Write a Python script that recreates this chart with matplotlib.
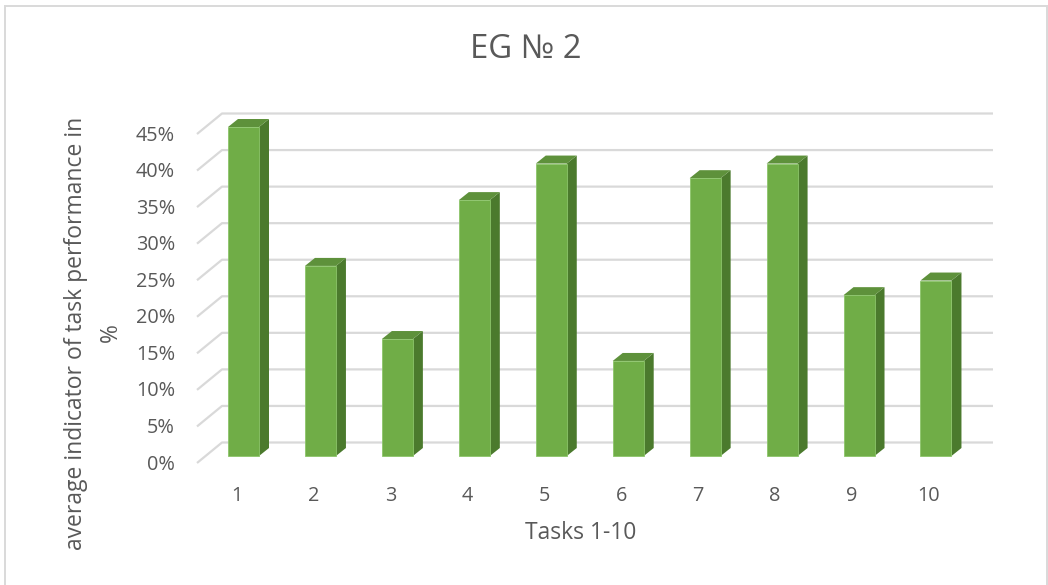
import matplotlib
matplotlib.use("Agg")
import matplotlib.pyplot as plt
from matplotlib.patches import Polygon, Rectangle

plt.rcParams['font.family'] = ['Open Sans', 'DejaVu Sans']

# ---- data ----
tasks = ["1", "2", "3", "4", "5", "6", "7", "8", "9", "10"]
performance = [45, 26, 16, 35, 40, 13, 38, 40, 22, 24]   # percent
y_ticks = [0, 5, 10, 15, 20, 25, 30, 35, 40, 45]

title = "EG № 2"
x_label = "Tasks 1-10"
y_label = "average indicator of task performance in\n%"

# ---- styling ----
FRONT = "#70AD47"
SIDE = "#4B7A2D"
TOP = "#5E913B"
GRID = "#D9D9D9"
TEXT = "#595959"
TICK_FS = 14.3
LABEL_FS = 16.5

W, H, DPI = 1048, 585, 100
fig = plt.figure(figsize=(W / DPI, H / DPI), dpi=DPI)

# axes box in pixels (from top-left)
L_PX, R_PX, T_PX, B_PX = 150, 1000, 90, 520
ax = fig.add_axes([L_PX / W, (H - B_PX) / H, (R_PX - L_PX) / W, (B_PX - T_PX) / H])

# pixel scale of the bar plane
X0_PX, XSTEP = 243.5, 76.94      # centre of first bar, spacing
Y0_PX, YSTEP = 456.0, 7.311      # baseline, pixels per percent

xlim = (1 + (L_PX - X0_PX) / XSTEP, 1 + (R_PX - X0_PX) / XSTEP)
ylim = ((Y0_PX - B_PX) / YSTEP, (Y0_PX - T_PX) / YSTEP)
ax.set_xlim(*xlim)
ax.set_ylim(*ylim)
ax.axis("off")


def px_x(px):
    return 1 + (px - X0_PX) / XSTEP


def dx(px):
    return px / XSTEP


def dy(px):
    # positive px = upwards on screen
    return px / YSTEP


# gridlines: short slanted floor edge on the left, then the back wall
for v in y_ticks:
    xs = [px_x(197), px_x(222), px_x(993)]
    ys = [v - dy(7), v + dy(13.5), v + dy(13.5)]
    ax.plot(xs, ys, color=GRID, lw=1.6, solid_capstyle="butt", zorder=1)
    ax.text(px_x(175), v - dy(8.5), f"{v}%", ha="right", va="center",
            fontsize=TICK_FS, color=TEXT)

# 3-D looking bars
positions = list(range(1, len(tasks) + 1))
bw = 31 / XSTEP
ddx, ddy = dx(10), dy(8)
for x, v in zip(positions, performance):
    left, right = x - bw / 2, x + bw / 2
    side = Polygon([(right, 0), (right + ddx, ddy), (right + ddx, v + ddy), (right, v)],
                   closed=True, facecolor=SIDE, edgecolor="none", zorder=3)
    top = Polygon([(left, v), (right, v), (right + ddx, v + ddy), (left + ddx, v + ddy)],
                  closed=True, facecolor=TOP, edgecolor="none", zorder=3)
    ax.add_patch(side)
    ax.add_patch(top)
ax.bar(positions, performance, width=bw, color=FRONT, edgecolor="#8CC56A",
       linewidth=0.6, zorder=4)

# category labels sit on the front floor edge
for x, lab in zip(positions, tasks):
    ax.text(x - dx(7), dy(Y0_PX - 496), lab, ha="center", va="center",
            fontsize=TICK_FS, color=TEXT)

# titles
fig.text(526 / W, 1 - 50 / H, title, ha="center", va="center",
         fontsize=23.7, color=TEXT)
fig.text(581 / W, 1 - 533 / H, x_label, ha="center", va="center",
         fontsize=LABEL_FS, color=TEXT)
fig.text(93 / W, 1 - 333 / H, y_label, ha="center", va="center",
         rotation=90, fontsize=LABEL_FS, color=TEXT, multialignment="center",
         linespacing=1.6)

# chart border (runs off the right and bottom edges)
fig.patches.append(Rectangle((4.5 / W, -0.02), (1046.5 - 4.5) / W, (H - 5.5) / H + 0.02,
                             transform=fig.transFigure, fill=False,
                             edgecolor=GRID, lw=1.4))

fig.savefig("out.png", dpi=DPI, facecolor="white")
